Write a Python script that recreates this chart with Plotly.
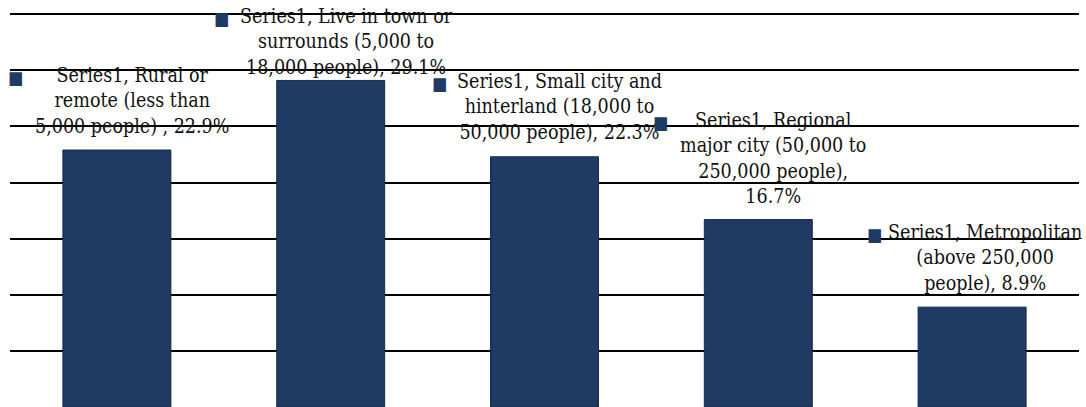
import textwrap
import plotly.graph_objects as go

# ---- data ----
categories = [
    "Rural or remote (less than 5,000 people) ",
    "Live in town or surrounds (5,000 to 18,000 people)",
    "Small city and hinterland (18,000 to 50,000 people)",
    "Regional major city (50,000 to 250,000 people)",
    "Metropolitan (above 250,000 people)",
]
values = [22.9, 29.1, 22.3, 16.7, 8.9]
series_name = "Series1"
y_ticks = [0, 5, 10, 15, 20, 25, 30, 35]

# ---- style ----
bar_color = "#1F3A63"
font_family = "DejaVu Serif Condensed, DejaVu Serif, serif"
font_size = 19.5
wrap_widths = [21, 24, 23, 21, 21]
label_xshift = [15, 16, 15, 15, 13]
label_yshift = [10, -1, 11, 10, 10]
key_offset = [-101, -109, -105, -98, -98]

fig = go.Figure()
fig.add_trace(go.Bar(
    x=list(range(len(categories))),
    y=values,
    marker=dict(color=bar_color, line=dict(color="#152a4b", width=1)),
    hoverinfo="skip",
))

for i, (cat, val) in enumerate(zip(categories, values)):
    full = f"{series_name}, {cat}, {val:.1f}%"
    lines = textwrap.wrap(full, width=wrap_widths[i], break_on_hyphens=False,
                          drop_whitespace=True)
    fig.add_annotation(
        x=i, y=val, xref="x", yref="y",
        text="<br>".join(lines),
        showarrow=False, xanchor="center", yanchor="bottom",
        xshift=label_xshift[i], yshift=label_yshift[i],
        align="center",
        font=dict(family=font_family, size=font_size, color="#111111"),
    )
    key_text = (f"<span style='color:{bar_color};font-size:18px'>■</span>"
                + "<br>\u00a0" * (len(lines) - 1))
    fig.add_annotation(
        x=i, y=val, xref="x", yref="y",
        text=key_text,
        showarrow=False, xanchor="center", yanchor="bottom",
        xshift=key_offset[i], yshift=label_yshift[i] - 2,
        align="center",
        font=dict(family=font_family, size=font_size, color=bar_color),
    )

fig.update_layout(
    width=1086, height=407,
    margin=dict(l=10, r=7, t=12, b=0),
    paper_bgcolor="white", plot_bgcolor="white",
    bargap=0.495,
    showlegend=False,
    xaxis=dict(range=[-0.5, len(categories) - 0.5], showticklabels=False,
               showgrid=False, zeroline=False, showline=False, ticks=""),
    yaxis=dict(range=[y_ticks[0], y_ticks[-1] + 0.2], tickvals=y_ticks, showticklabels=False,
               showgrid=True, gridcolor="#000000", gridwidth=1.5,
               zeroline=False, showline=False, ticks=""),
)

fig.write_html("out.html", config={"displayModeBar": False},
               post_script="document.body.style.margin='0';document.body.style.overflow='hidden';")
